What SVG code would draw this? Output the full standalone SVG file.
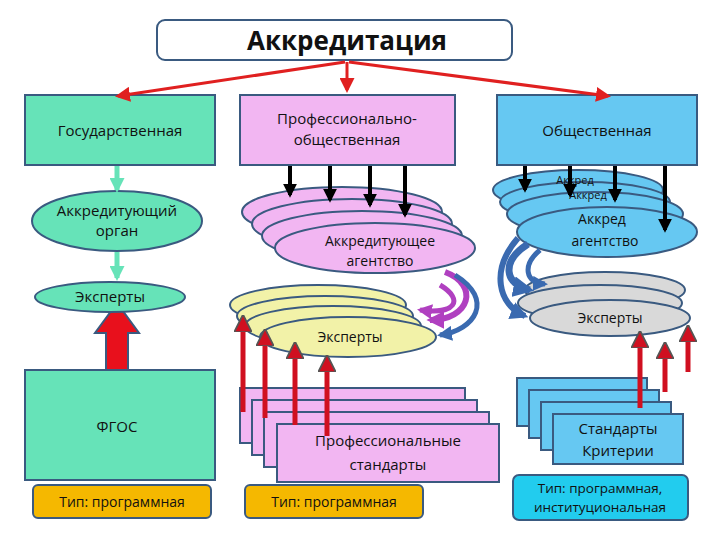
<svg xmlns="http://www.w3.org/2000/svg" width="720" height="540" viewBox="0 0 720 540">
<style>
text{font-family:"Open Sans","DejaVu Sans",sans-serif;text-anchor:middle;fill:#111}
.s{stroke:#3a5a80;stroke-width:2}
.g{fill:#66e3b8}.p{fill:#f2b6f2}.b{fill:#66c8f2}.y{fill:#f2f2a8}.gr{fill:#d9d9d9}
.t{font-size:15px}
.k{stroke:#000;stroke-width:4;marker-end:url(#ka)}
.r{stroke:#d01020;stroke-width:5;marker-end:url(#ua)}
.bl{stroke:#3a6ab0;marker-end:url(#ba)}
</style>
<defs>
<marker id="ra" viewBox="0 0 10 10" refX="8" refY="5" markerWidth="5" markerHeight="5" orient="auto"><path d="M0,0L10,5L0,10z" fill="#e02020"/></marker>
<marker id="ka" viewBox="0 0 10 10" refX="8" refY="5" markerWidth="3.5" markerHeight="3.5" orient="auto"><path d="M0,0L10,5L0,10z" fill="#000"/></marker>
<marker id="ga" viewBox="0 0 10 10" refX="8" refY="5" markerWidth="3" markerHeight="3" orient="auto"><path d="M0,0L10,5L0,10z" fill="#66e3b8"/></marker>
<marker id="pa" viewBox="0 0 10 10" refX="8" refY="5" markerWidth="3" markerHeight="3" orient="auto"><path d="M0,0L10,5L0,10z" fill="#b040c0"/></marker>
<marker id="ba" viewBox="0 0 10 10" refX="8" refY="5" markerWidth="3" markerHeight="3" orient="auto"><path d="M0,0L10,5L0,10z" fill="#3a6ab0"/></marker>
<marker id="ua" viewBox="0 0 10 10" refX="8" refY="5" markerWidth="3.5" markerHeight="3.5" orient="auto"><path d="M0,0L10,5L0,10z" fill="#d01020" stroke="#555" stroke-width="1"/></marker>
</defs>
<g id="title"><rect x="157" y="20" width="355" height="40" rx="8" fill="#fff" class="s"/><text x="347" y="50" style="font-size:26px;font-weight:bold">Аккредитация</text></g>
<polygon points="117,303 95,333 106,333 106,395 128,395 128,333 139,333" fill="#e8101c" stroke="#3a5a80" stroke-width="2"/>
<g id="gos"><rect x="25" y="95" width="190" height="70" class="g s"/><text x="120" y="136" class="t">Государственная</text></g>
<g id="prof"><rect x="240" y="95" width="215" height="70" class="p s"/><text x="347" y="124" class="t">Профессионально-</text><text x="347" y="145" class="t">общественная</text></g>
<g id="obsh"><rect x="497" y="95" width="200" height="70" class="b s"/><text x="597" y="136" class="t">Общественная</text></g>
<g id="organ"><ellipse cx="117" cy="221" rx="85" ry="30" class="g s"/><text x="117" y="216" class="t">Аккредитующий</text><text x="117" y="236" class="t">орган</text></g>
<g id="exp1"><ellipse cx="110" cy="297" rx="75" ry="15" class="g s"/><text x="110" y="302" class="t">Эксперты</text></g>
<g id="fgos"><rect x="25" y="370" width="190" height="110" class="g s"/><text x="117" y="432" class="t">ФГОС</text></g>
<g id="tag1"><rect x="33" y="485" width="178" height="33" rx="5" fill="#f5b800" class="s"/><text x="122" y="507" style="font-size:14px">Тип: программная</text></g>
<g id="agency"><ellipse cx="342" cy="212" rx="100" ry="25" class="p s"/><ellipse cx="352" cy="224" rx="100" ry="25" class="p s"/><ellipse cx="362" cy="236" rx="100" ry="25" class="p s"/><ellipse cx="375" cy="248" rx="100" ry="25" class="p s"/><text x="380" y="246" style="font-size:14px">Аккредитующее</text><text x="380" y="266" style="font-size:14px">агентство</text></g>
<g id="exp2"><ellipse cx="318" cy="305" rx="88" ry="20" class="y s"/><ellipse cx="325" cy="316" rx="88" ry="20" class="y s"/><ellipse cx="333" cy="326" rx="88" ry="20" class="y s"/><ellipse cx="348" cy="337" rx="88" ry="20" class="y s"/><text x="350" y="342" style="font-size:14px">Эксперты</text></g>
<g id="profst"><rect x="240" y="388" width="225" height="55" class="p s"/><rect x="252" y="400" width="225" height="55" class="p s"/><rect x="264" y="412" width="225" height="55" class="p s"/><rect x="277" y="424" width="222" height="58" class="p s"/><text x="388" y="446" class="t">Профессиональные</text><text x="388" y="470" class="t">стандарты</text></g>
<g id="tag2"><rect x="245" y="485" width="178" height="33" rx="5" fill="#f5b800" class="s"/><text x="334" y="507" style="font-size:14px">Тип: программная</text></g>
<g id="bagency"><ellipse cx="578" cy="190" rx="85" ry="20" class="b s"/><ellipse cx="585" cy="202" rx="85" ry="20" class="b s"/><ellipse cx="595" cy="214" rx="88" ry="22" class="b s"/><ellipse cx="607" cy="232" rx="90" ry="25" class="b s"/><text x="575" y="184" style="font-size:11px">Аккред</text><text x="588" y="199" style="font-size:11px">Аккред</text><text x="602" y="224" style="font-size:14px">Аккред</text><text x="605" y="246" style="font-size:14px">агентство</text></g>
<g id="bexp"><ellipse cx="605" cy="290" rx="80" ry="18" class="gr s"/><ellipse cx="600" cy="303" rx="82" ry="18" class="gr s"/><ellipse cx="610" cy="318" rx="80" ry="18" class="gr s"/><text x="610" y="323" style="font-size:14px">Эксперты</text></g>
<g id="crit"><rect x="517" y="378" width="130" height="48" class="b s"/><rect x="529" y="390" width="130" height="48" class="b s"/><rect x="541" y="402" width="130" height="48" class="b s"/><rect x="553" y="414" width="130" height="50" class="b s"/><text x="618" y="434" class="t">Стандарты</text><text x="618" y="456" class="t">Критерии</text></g>
<g id="tag3"><rect x="513" y="475" width="175" height="45" rx="6" fill="#22ccee" class="s"/><text x="600" y="493" style="font-size:13.5px">Тип: программная,</text><text x="600" y="512" style="font-size:13.5px">институциональная</text></g>
<g id="connectors" fill="none">
<path d="M345,62L118,96" stroke="#e02020" stroke-width="3" marker-end="url(#ra)"/>
<path d="M347,62L347,90" stroke="#e02020" stroke-width="3" marker-end="url(#ra)"/>
<path d="M349,62L608,96" stroke="#e02020" stroke-width="3" marker-end="url(#ra)"/>
<path d="M117,166V190" stroke="#66e3b8" stroke-width="5" marker-end="url(#ga)"/>
<path d="M117,252V278" stroke="#66e3b8" stroke-width="5" marker-end="url(#ga)"/>
<path d="M290,166V195" class="k"/><path d="M330,166V200" class="k"/><path d="M370,166V205" class="k"/><path d="M405,166V215" class="k"/>
<path d="M525,166V190" class="k"/><path d="M570,166V195" class="k"/><path d="M615,166V200" class="k"/><path d="M665,166V230" class="k"/>
<path d="M445,272C480,285 470,320 430,320" stroke="#b040c0" stroke-width="6" marker-end="url(#pa)"/>
<path d="M455,275C495,300 475,330 440,335" stroke="#3a6ab0" stroke-width="5" marker-end="url(#ba)"/>
<path d="M440,285C465,300 455,315 420,310" stroke="#b040c0" stroke-width="5" marker-end="url(#pa)"/>
<path d="M528,244C500,262 505,285 530,290" class="bl" stroke-width="7"/>
<path d="M518,238C490,270 498,305 525,316" class="bl" stroke-width="6"/>
<path d="M540,250C522,265 525,283 545,284" class="bl" stroke-width="5"/>
<path d="M243,412V318" class="r"/><path d="M265,418V332" class="r"/><path d="M295,425V345" class="r"/><path d="M327,436V358" class="r"/>
<path d="M640,408V334" class="r"/><path d="M665,392V345" class="r"/><path d="M688,372V328" class="r"/>
</g>
</svg>
